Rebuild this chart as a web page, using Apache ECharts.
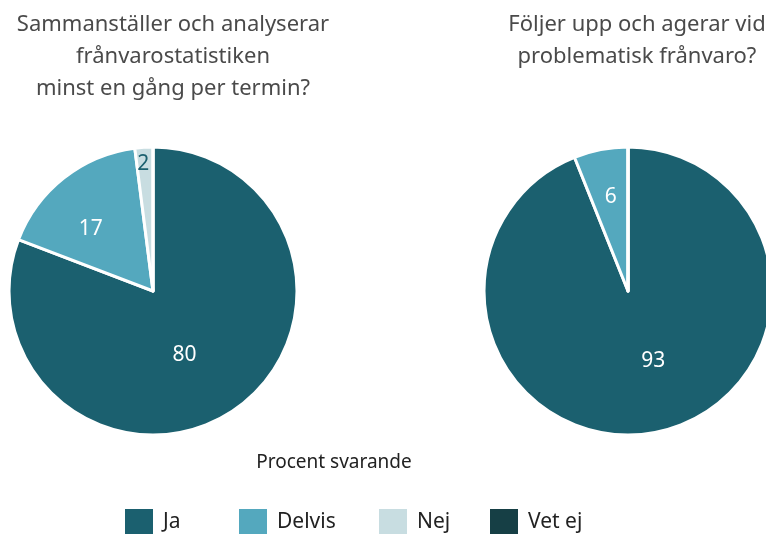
<!DOCTYPE html>
<html>
<head>
<meta charset="utf-8">
<script src="https://cdn.jsdelivr.net/npm/echarts@6/dist/echarts.min.js"></script>
<style>
  html, body { margin: 0; padding: 0; background: #fff; }
  #main { width: 766px; height: 534px; }
</style>
</head>
<body>
<div id="main"></div>
<script>
var categories = ["Ja", "Delvis", "Nej", "Vet ej"];
var colors = ["#1b606f", "#54a8be", "#c8dde1", "#163f45"];
var leftValues = [80, 17, 2, 0];
var rightValues = [93, 6, 0, 0];
var leftTitle = "Sammanställer och analyserar\nfrånvarostatistiken\nminst en gång per termin?";
var rightTitle = "Följer upp och agerar vid\nproblematisk frånvaro?";
var subTitle = "Procent svarande";

var font = "Noto Sans";

// label nudges so small slices read like the original
var leftOffsets = [[-11, 2], [-16, -3], [-5, -52], [0, 0]];
var rightOffsets = [[11, -4], [-3, -20], [0, 0], [0, 0]];

function buildData(values, offsets) {
  return categories.map(function (name, i) {
    return {
      name: name,
      value: values[i],
      itemStyle: { color: colors[i] },
      label: {
        show: values[i] > 0,
        offset: offsets[i],
        color: i === 2 ? colors[0] : "#fff"
      }
    };
  });
}

function pieSeries(values, offsets, center) {
  return {
    type: "pie",
    center: center,
    radius: 144,
    startAngle: 90,
    clockwise: true,
    silent: true,
    minAngle: 0,
    itemStyle: { borderColor: "#fff", borderWidth: 3 },
    label: {
      position: "inside",
      formatter: "{c}",
      fontFamily: font,
      fontSize: 21
    },
    labelLine: { show: false },
    data: buildData(values, offsets)
  };
}

var legendLefts = [123, 237, 377, 488];

var chart = echarts.init(document.getElementById("main"));
chart.setOption({
  animation: false,
  title: [
    {
      text: leftTitle,
      left: 168,
      top: 4,
      textAlign: "center",
      textStyle: { fontFamily: font, fontSize: 22, fontWeight: "normal", color: "#4a4a4a", lineHeight: 32 }
    },
    {
      text: rightTitle,
      left: 632,
      top: 4,
      textAlign: "center",
      textStyle: { fontFamily: font, fontSize: 22, fontWeight: "normal", color: "#4a4a4a", lineHeight: 32 }
    },
    {
      text: subTitle,
      left: 329,
      top: 448,
      textAlign: "center",
      textStyle: { fontFamily: font, fontSize: 19, fontWeight: "normal", color: "#222" }
    }
  ],
  legend: categories.map(function (name, i) {
    return {
      data: [name],
      left: legendLefts[i],
      top: 507,
      padding: 0,
      icon: "rect",
      itemWidth: 30,
      itemHeight: 28,
      itemGap: 0,
      selectedMode: false,
      textStyle: { fontFamily: font, fontSize: 21, color: "#222", padding: [0, 0, 0, 4] }
    };
  }),
  series: [
    pieSeries(leftValues, leftOffsets, [153, 291]),
    pieSeries(rightValues, rightOffsets, [628, 291])
  ]
});
</script>
</body>
</html>
